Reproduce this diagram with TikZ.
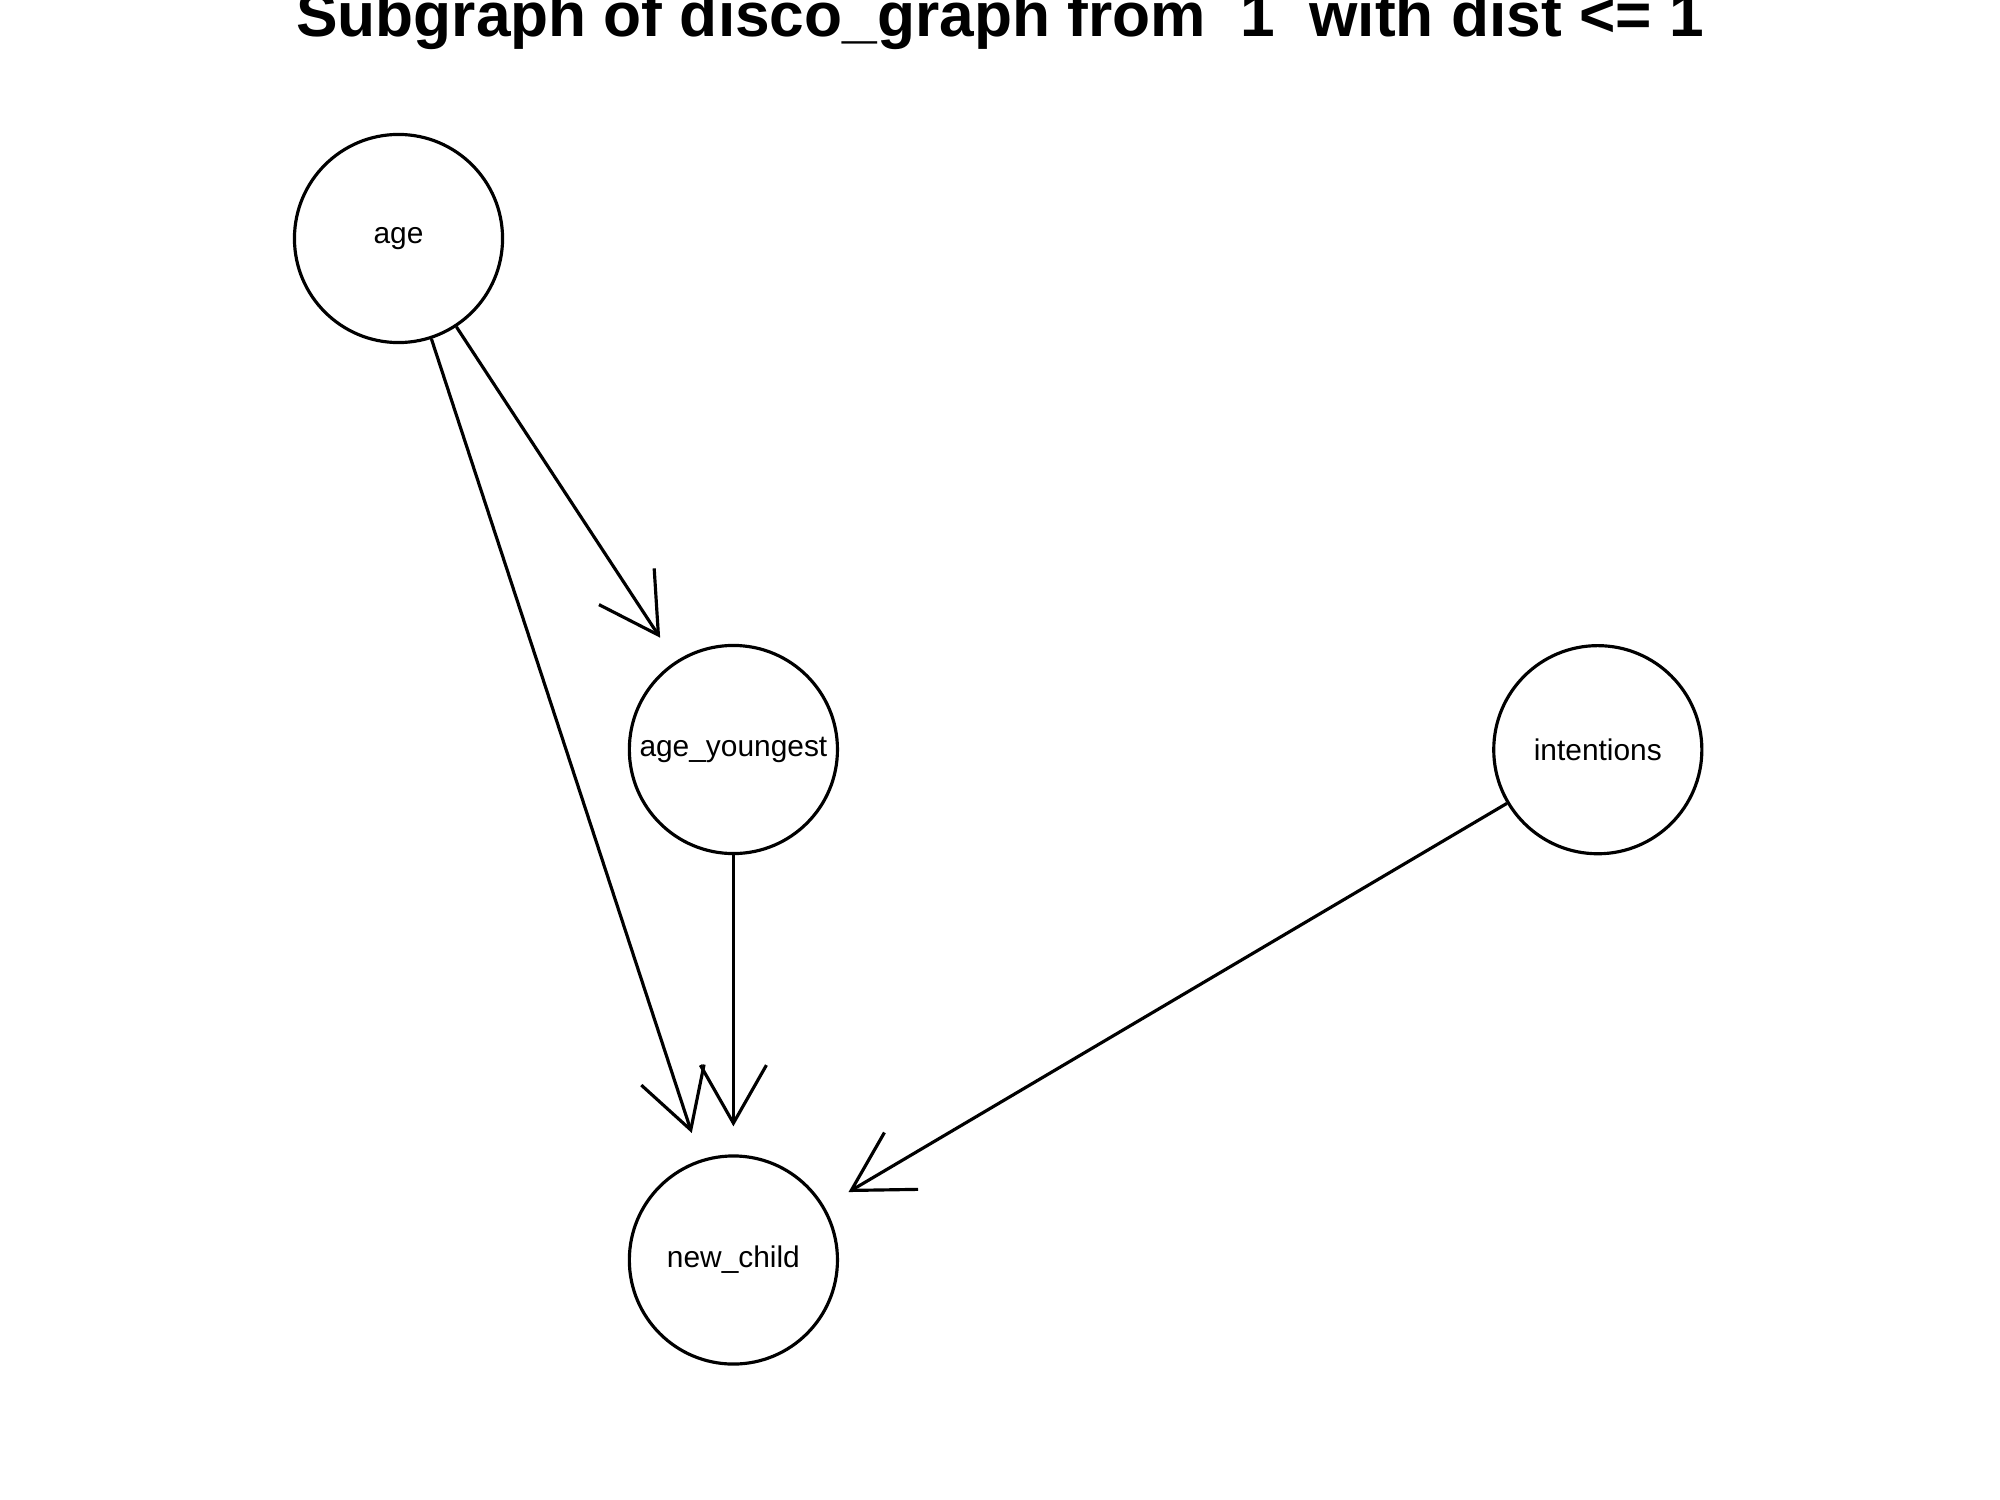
\documentclass[tikz,border=0pt]{standalone}
\usepackage{fontspec}
\setmainfont{Liberation Sans}
\usetikzlibrary{arrows.meta}
\tikzset{
	vertex/.style={draw,circle,line width=0.9pt,minimum size=2.08cm,inner sep=0pt,font=\fontsize{8.5}{10}\selectfont},
	edge/.style={line width=0.9pt,shorten >=0.28cm,-{Straight Barb[length=5.8mm,width=6.6mm,line width=0.9pt]}}
}

\begin{document}
\begin{tikzpicture}[x=0.01cm,y=-0.01cm]
	\useasboundingbox (0,0) rectangle (2000,1500);
	
	\draw (1000,37) node[anchor=base]{\fontsize{17.7}{20}\selectfont\bfseries Subgraph of disco\_graph from\ \ 1\ \ with dist <= 1};
	
	\draw (398.5,238.5) node[vertex](age){age};
	\draw (733.4,749.5) node[vertex](ageyoung){age\_youngest};
	\draw (1597.8,749.7) node[vertex](intent){intentions};
	\draw (733.4,1260) node[vertex](newchild){new\_child};
	
	\draw[edge] (age)--(ageyoung);
	\draw[edge] (age)--(newchild);
	\draw[edge] (ageyoung)--(newchild);
	\draw[edge] (intent)--(newchild);
	
\end{tikzpicture}
\end{document}
